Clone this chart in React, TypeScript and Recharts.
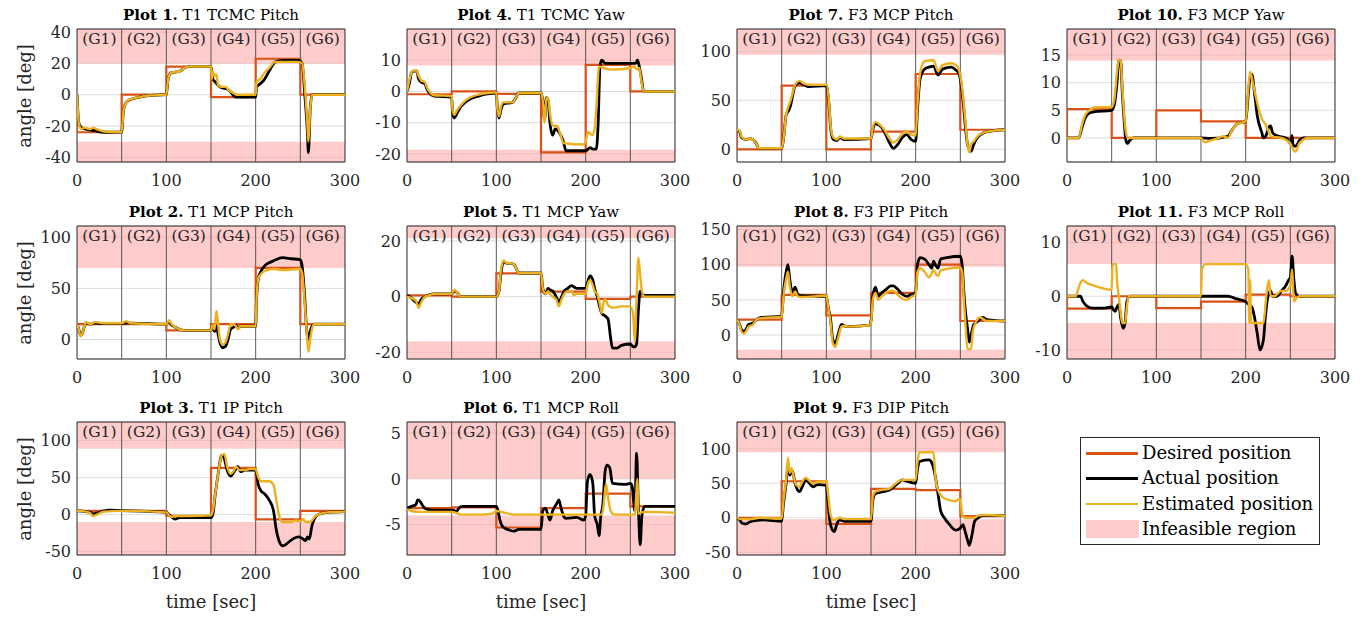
import React from 'react';
import { LineChart, Line, XAxis, YAxis, CartesianGrid, ReferenceArea, ReferenceLine } from 'recharts';

type Pt = [number, number];

const FONT = '"DejaVu Serif", serif';
const RED = '#d95319';
const BLACK = '#000000';
const YELLOW = '#edb120';
const PINK = '#ff9999';

const groups = ['(G1)', '(G2)', '(G3)', '(G4)', '(G5)', '(G6)'];
const groupEdges = [0, 50, 100, 150, 200, 250, 300];
const timeTicks = [0, 100, 200, 300];

// desired: start value, then the goal of G1..G6
const p1Desired = [0, -24, 0, 18, -1.5, 23, 0];
const p1Actual: Pt[] = [[0, 0], [2, -18], [5, -21], [10, -22], [20, -23], [30, -24], [50, -24], [52, -10], [55, -5], [60, -3], [70, -1.5], [80, -0.5], [100, 0], [102, 10], [105, 14], [115, 15], [120, 17], [125, 18], [150, 18], [152, 10], [155, 8], [160, 5], [170, 3], [178, -1.5], [200, -1.5], [201, 5], [205, 7], [210, 10], [215, 15], [222, 21], [230, 22], [248, 22], [252, 20], [255, 0], [258, -25], [259, -37], [261, -10], [263, 0], [300, 0]];
const p1Estimated: Pt[] = [[0, 0], [2, -18], [5, -22], [8, -21], [15, -22], [18, -21], [22, -22], [30, -23.5], [50, -24], [52, -10], [55, -5], [60, -3], [70, -1.5], [80, -0.5], [100, 0], [102, 10], [105, 14], [115, 15], [120, 17], [125, 18], [150, 18], [151, 10], [152, 15], [154, 12], [156, 13], [158, 6], [162, 5], [166, 5], [170, 3], [175, 1], [180, 0], [200, 0], [201, 8], [205, 10], [210, 14], [215, 17], [222, 21], [248, 21], [252, 20], [255, 5], [258, -20], [259, -30], [261, -10], [263, 0], [300, 0]];

const p2Desired = [15, 15, 15, 9, 15, 70, 15];
const p2Actual: Pt[] = [[0, 15], [2, 10], [4, 4], [6, 6], [8, 12], [10, 16], [15, 15], [20, 16], [30, 15.5], [50, 15.5], [55, 16], [60, 16], [100, 15], [103, 17], [105, 15], [110, 12], [120, 9], [150, 9], [152, 12], [154, 8], [156, 13], [158, 5], [160, -3], [163, -8], [166, -7], [169, 0], [172, 10], [175, 12], [178, 14], [180, 11], [183, 13], [200, 13], [201, 40], [203, 60], [205, 65], [210, 72], [215, 75], [220, 77], [230, 80], [240, 79], [250, 78], [252, 72], [255, 40], [257, 10], [259, 0], [261, 8], [263, 13], [265, 15], [300, 15]];
const p2Estimated: Pt[] = [[0, 15], [2, 10], [4, 3], [6, 6], [8, 12], [10, 17], [15, 15], [20, 17], [30, 16], [50, 16], [55, 18], [60, 16], [100, 15], [103, 19], [105, 16], [110, 12], [120, 9], [150, 9], [152, 14], [154, 10], [156, 28], [158, 15], [160, 0], [163, -5], [166, -3], [169, 5], [172, 15], [175, 15], [178, 13], [180, 10], [183, 13], [200, 13], [201, 40], [203, 60], [205, 63], [210, 67], [220, 69], [230, 68], [250, 69], [252, 65], [255, 35], [257, 10], [259, -12], [261, 0], [263, 10], [265, 15], [300, 15]];

const p3Desired = [5, 5, 5, -1.5, 63, -6.5, 5];
const p3Actual: Pt[] = [[0, 5], [10, 4], [15, 3], [18, 1], [22, 2], [30, 5], [35, 6], [50, 5.5], [100, 3], [103, 0], [107, -4], [110, -6], [115, -4], [150, -4], [152, 0], [155, 30], [158, 55], [162, 80], [165, 75], [168, 60], [172, 52], [177, 60], [180, 65], [183, 58], [188, 60], [200, 60], [203, 40], [206, 32], [210, 28], [215, 20], [220, 5], [223, -20], [226, -35], [230, -42], [233, -41], [238, -36], [243, -32], [248, -30], [252, -32], [256, -35], [258, -30], [260, -33], [263, -15], [266, -5], [270, 0], [280, 3], [300, 4]];
const p3Estimated: Pt[] = [[0, 5], [10, 4], [15, 2], [18, -2], [22, 0], [30, 4], [50, 5], [100, 3], [105, -3], [110, -2], [125, -2], [150, -1], [152, 5], [155, 30], [158, 55], [162, 80], [165, 82], [168, 65], [172, 55], [175, 58], [178, 65], [182, 60], [188, 60], [195, 62], [200, 61], [203, 50], [206, 45], [215, 45], [220, 40], [223, 20], [226, 0], [230, -10], [240, -10], [245, -8], [250, -9], [253, -6], [256, -10], [260, -10], [263, -8], [266, -3], [270, 0], [280, 3], [300, 4]];

const p4Desired = [-0.9, -0.9, 0, -0.8, -19.5, 8.5, 0];
const p4Actual: Pt[] = [[0, 0], [3, 3], [5, 6], [8, 6.5], [11, 6.5], [13, 4], [16, 3], [20, 2.5], [22, 1], [25, -0.5], [30, -1.5], [50, -1.8], [51, -7], [53, -8.5], [56, -7], [60, -5], [65, -3.5], [70, -2.5], [80, -1.5], [90, -0.8], [100, -0.5], [101, -5], [103, -8.5], [105, -6], [108, -4], [118, -3.5], [122, -2], [125, -0.5], [150, -0.5], [152, -3], [154, -9], [156, -2], [158, -3], [160, -10], [163, -14], [166, -12], [170, -13], [175, -16], [178, -19], [200, -19], [205, -18], [208, -18.5], [212, -18.5], [214, -10], [216, 8], [218, 10], [222, 9], [256, 9], [258, 10], [260, 8], [262, 5], [265, 0], [300, 0]];
const p4Estimated: Pt[] = [[0, 0], [3, 4], [5, 6], [8, 6.8], [11, 6.5], [13, 5], [16, 3.5], [20, 3], [22, 1.5], [25, 0], [30, -1.2], [50, -1.5], [51, -6], [53, -7.5], [56, -6], [60, -4.5], [65, -3], [70, -2], [80, -1], [90, -0.5], [100, -0.3], [101, -5], [103, -8], [105, -5], [108, -3.5], [118, -3.5], [122, -2], [125, -0.5], [150, -0.5], [152, -3], [154, -10], [156, -2], [158, -2], [160, -7], [163, -11], [168, -11], [172, -14], [175, -16.5], [198, -17], [200, -16], [203, -13], [207, -14], [210, -12], [212, -5], [215, 8], [220, 7.5], [230, 7], [250, 7.5], [254, 8], [258, 7], [260, 7.5], [262, 4], [265, 0], [300, 0]];

const p5Desired = [0.5, 0.5, 0, 8.4, 1.8, -0.8, 0];
const p5Actual: Pt[] = [[0, 0.5], [5, -0.5], [10, -2], [13, -2.5], [16, -1], [20, 0], [25, 0.7], [30, 1], [50, 1], [53, 2], [56, 1.5], [60, 0], [100, 0], [103, 2], [105, 8], [108, 12.5], [112, 12], [116, 12], [120, 11.5], [125, 8.5], [150, 8.5], [152, 3], [155, 1], [158, 3], [160, 2.5], [163, 2], [167, 0], [170, -2], [173, 0], [176, 2], [180, 3], [184, 4], [187, 3.5], [190, 3], [200, 3], [202, 5], [205, 7.5], [208, 6], [210, 3], [213, 0], [216, -4], [218, -6], [222, -7], [225, -8], [228, -15], [230, -18.5], [235, -18.5], [240, -17.5], [250, -17], [253, -18], [255, -18], [257, -17], [259, -5], [261, 2], [263, 1], [266, 0.5], [300, 0.5]];
const p5Estimated: Pt[] = [[0, 0], [5, -0.5], [10, -1.5], [13, -4], [16, -2], [20, 0], [25, 0.5], [30, 1], [50, 1], [53, 2.5], [56, 1.5], [60, 0], [100, 0], [103, 2], [105, 9], [108, 13], [112, 12], [116, 12], [120, 11.5], [125, 8.5], [150, 8.5], [152, 3], [155, 1], [158, 2], [160, 1], [163, 0], [167, -1], [170, -3.5], [173, -1], [176, 1], [180, 2], [184, 2], [187, 0.5], [190, 1], [200, 1], [202, 4], [205, 6], [208, 4], [210, 2], [213, 1], [216, -3], [218, -6], [220, -2], [222, -1], [225, -3], [230, -4], [240, -3.5], [250, -3.5], [253, -6], [255, -16], [257, 0], [259, 14], [261, 8], [263, 2], [266, 0], [300, 0]];

const p6Desired = [-3.2, -3.2, -3.1, -5.3, -3.2, -1.6, -3];
const p6Actual: Pt[] = [[0, -3.2], [5, -3], [10, -2.8], [12, -2.3], [15, -2.5], [18, -3], [22, -3.3], [30, -3.4], [52, -3.4], [55, -3.6], [58, -3.2], [62, -3], [100, -3], [102, -3.5], [104, -4.5], [107, -5.2], [115, -5.6], [120, -5.7], [125, -5.5], [150, -5.5], [152, -3.5], [155, -3.2], [158, -4], [160, -4.5], [163, -3.5], [167, -2.8], [170, -2.3], [172, -3], [175, -4], [178, -4.3], [190, -4.2], [198, -4.5], [200, -4], [202, -0.3], [205, 0.5], [208, -0.5], [210, -4], [213, -5], [215, -6.2], [217, -4], [219, -3], [222, 1], [224, 1.5], [227, 1.2], [230, -0.5], [245, -0.6], [250, -0.5], [252, -0.8], [255, -3.5], [257, 2.8], [259, -3], [261, -7.2], [263, -4], [266, -3], [300, -3]];
const p6Estimated: Pt[] = [[0, -3.3], [5, -3.5], [15, -3.6], [50, -3.6], [55, -3.7], [60, -3.9], [80, -3.9], [95, -3.8], [100, -3.5], [110, -3.7], [120, -3.9], [218, -3.9], [220, -3], [222, -1], [223, -0.6], [225, -2], [228, -3.5], [232, -3.9], [255, -3.9], [258, 0], [259, -3.8], [265, -3.6], [300, -3.7]];

const p7Desired = [18, 0, 65, 0, 18, 77, 20];
const p7Actual: Pt[] = [[0, 20], [3, 18], [5, 12], [10, 10], [15, 11], [20, 8], [25, 1], [50, 1], [52, 10], [55, 35], [58, 40], [60, 45], [65, 65], [70, 68], [75, 66], [80, 64], [100, 65], [103, 45], [105, 20], [108, 10], [112, 9], [115, 12], [120, 10], [150, 11], [152, 20], [155, 26], [160, 24], [165, 18], [170, 8], [175, 1], [180, 5], [185, 12], [190, 15], [195, 10], [200, 8], [202, 40], [205, 72], [210, 82], [215, 84], [220, 85], [225, 76], [230, 82], [240, 84], [245, 81], [248, 78], [250, 72], [253, 50], [256, 20], [258, 5], [260, 0], [262, -2], [265, 5], [270, 13], [280, 18], [300, 20]];
const p7Estimated: Pt[] = [[0, 20], [3, 19], [5, 13], [10, 10], [15, 11], [20, 8], [25, 1], [50, 1], [52, 10], [55, 35], [58, 45], [60, 50], [65, 66], [70, 70], [75, 67], [80, 66], [100, 66], [103, 48], [105, 22], [108, 12], [112, 10], [115, 13], [120, 11], [150, 11], [152, 22], [155, 28], [160, 25], [165, 20], [170, 12], [175, 7], [180, 10], [185, 16], [190, 18], [195, 15], [200, 14], [202, 45], [205, 78], [210, 90], [220, 91], [225, 80], [230, 86], [240, 88], [245, 86], [248, 82], [250, 75], [253, 55], [256, 25], [258, 5], [260, -3], [262, 5], [265, 8], [270, 14], [280, 18], [300, 20]];

const p8Desired = [22, 22, 57, 28, 60, 100, 20];
const p8Actual: Pt[] = [[0, 22], [3, 15], [5, 8], [8, 5], [10, 8], [13, 15], [18, 17], [22, 22], [27, 25], [50, 27], [52, 60], [55, 90], [57, 100], [59, 80], [62, 60], [65, 68], [68, 58], [72, 56], [100, 55], [102, 40], [105, 20], [107, -5], [110, -12], [113, 0], [117, 15], [120, 13], [125, 12], [148, 14], [150, 20], [152, 55], [155, 68], [158, 55], [162, 60], [167, 65], [172, 70], [175, 70], [180, 65], [185, 58], [190, 55], [195, 58], [200, 60], [202, 100], [205, 110], [210, 108], [215, 100], [218, 95], [220, 105], [222, 100], [225, 95], [228, 108], [235, 110], [250, 112], [252, 100], [254, 60], [256, 30], [258, 10], [260, -10], [262, 0], [265, 15], [270, 20], [275, 25], [280, 22], [300, 20]];
const p8Estimated: Pt[] = [[0, 22], [3, 14], [5, 5], [8, 2], [10, 5], [13, 12], [18, 15], [22, 22], [27, 24], [50, 26], [52, 55], [55, 80], [57, 90], [59, 70], [62, 55], [65, 62], [68, 55], [72, 54], [100, 56], [102, 40], [105, 15], [107, -10], [110, -17], [113, -5], [117, 12], [120, 13], [125, 12], [148, 14], [150, 18], [152, 50], [155, 60], [158, 50], [162, 55], [167, 60], [172, 63], [175, 63], [180, 57], [185, 52], [190, 50], [195, 54], [200, 58], [202, 90], [205, 95], [210, 90], [215, 82], [218, 88], [220, 93], [222, 88], [225, 84], [228, 92], [235, 94], [250, 96], [252, 90], [254, 50], [256, 10], [258, -20], [262, -20], [264, 5], [268, 20], [272, 25], [280, 20], [300, 20]];

const p9Desired = [0, 0, 53, -9, 42, 40, 2.4];
const p9Actual: Pt[] = [[0, 0], [3, -3], [6, -8], [10, -9], [14, -6], [20, -4], [30, -3], [40, -4], [50, -5], [52, 20], [55, 50], [57, 75], [59, 62], [62, 68], [65, 50], [68, 40], [70, 38], [73, 45], [77, 55], [80, 52], [85, 45], [90, 48], [100, 47], [102, 20], [104, -5], [107, -18], [109, -20], [112, -8], [115, -3], [120, -5], [150, -5], [152, 25], [155, 35], [160, 37], [170, 40], [180, 50], [185, 55], [190, 53], [200, 50], [202, 70], [205, 82], [215, 84], [218, 80], [222, 60], [225, 35], [228, 10], [232, 0], [238, -10], [245, -18], [250, -15], [253, -10], [255, -18], [258, -32], [260, -40], [263, -25], [266, -5], [270, 0], [275, 3], [300, 3]];
const p9Estimated: Pt[] = [[0, 2], [3, -2], [15, -2], [25, 0], [40, -1], [50, -1], [52, 25], [55, 55], [57, 87], [59, 65], [61, 72], [63, 62], [66, 48], [70, 45], [73, 52], [77, 58], [80, 55], [85, 50], [90, 52], [100, 53], [102, 35], [104, 10], [107, -3], [112, -2], [115, 0], [120, -2], [150, -2], [152, 30], [155, 38], [160, 40], [170, 42], [180, 52], [185, 55], [200, 55], [202, 80], [204, 95], [220, 95], [222, 60], [225, 40], [230, 30], [240, 25], [245, 24], [248, 27], [250, 27], [252, 5], [255, 0], [265, 0], [270, 3], [275, 4], [300, 3]];

const p10Desired = [0, 5.2, 0, 5, 3, 0, 0];
const p10Actual: Pt[] = [[0, 0], [13, 0], [17, 2], [20, 3.5], [25, 4.5], [30, 4.7], [50, 5], [53, 6], [56, 10], [58, 14], [60, 14], [62, 8], [64, 3], [66, -0.5], [68, -1], [70, -0.5], [75, 0], [150, 0], [160, -0.1], [180, 0.3], [185, 1.5], [190, 2.5], [200, 3], [203, 8], [205, 11], [207, 11.5], [210, 8], [213, 4], [218, 1], [220, 0], [223, 0.5], [226, 2], [228, 2.2], [230, 1], [235, 0.4], [245, 0], [248, -0.5], [250, -1], [252, 0.4], [253, -1.3], [256, -1.5], [260, -0.5], [265, 0], [300, 0]];
const p10Estimated: Pt[] = [[0, 0], [13, 0], [17, 2.5], [20, 4], [25, 5], [30, 5.5], [50, 5.6], [53, 7], [56, 12], [58, 14.2], [60, 14], [62, 9], [64, 4], [66, 1], [68, 0], [150, 0], [152, -0.5], [155, -0.8], [160, -0.5], [170, 0], [175, 0.3], [180, 0], [185, 1.5], [190, 2.5], [200, 3], [203, 9], [205, 12], [208, 10], [212, 7], [215, 5], [218, 3.5], [222, 2.5], [225, 1.5], [228, 0.3], [240, 0], [250, -1], [253, -2], [256, -2.5], [260, -1], [270, 0], [300, 0]];

const p11Desired = [0, -2.3, 0, -2.2, -1, 0.3, 0];
const p11Actual: Pt[] = [[0, 0], [15, 0], [18, -1], [22, -1.8], [28, -2.2], [40, -2.2], [50, -2], [52, -2.5], [54, -2.8], [56, -2], [58, -1.5], [60, -4], [63, -6], [65, -5], [67, -1], [70, 0], [180, 0], [190, -0.5], [200, -1], [203, -1.5], [207, -2], [210, -4], [213, -7], [216, -10], [220, -8], [222, -4], [225, 0], [228, 1], [230, 0], [235, 0], [240, 1], [245, 2], [248, 3], [250, 3.5], [252, 7.5], [254, 3], [256, 0.5], [260, 0], [300, 0]];
const p11Estimated: Pt[] = [[0, 0], [10, 0], [12, 1], [15, 2.5], [18, 3], [22, 2.5], [30, 2], [40, 1.5], [50, 1.2], [51, 6], [55, 6], [56, 3], [58, 0], [60, -3], [62, -5], [65, -5], [67, -2], [69, 0], [150, 0], [151, 5], [155, 6], [200, 6], [203, 5], [204, -5], [205, 3], [206, -5], [220, -5], [223, 0], [226, 3], [228, 0], [232, 0], [240, 1], [245, 1], [250, 2], [252, 5], [254, -1], [256, -0.5], [260, 0], [300, 0]];

const PLOT_W = 268;
const PLOT_H = 133;
const Y_W = 50;
const TOP_M = 10;
const RIGHT_M = 18;
const X_H = 32;

const colLeft = [77, 407, 737, 1067];
const rowTop = [29, 226, 422];

interface Cfg {
  n: number;
  name: string;
  col: number;
  row: number;
  domain: [number, number];
  ticks: number[];
  bands: [number, number][];
  desired: number[];
  actual: Pt[];
  estimated: Pt[];
}

const plots: Cfg[] = [
  { n: 1, name: 'T1 TCMC Pitch', col: 0, row: 0, domain: [-43, 42], ticks: [-40, -20, 0, 20, 40], bands: [[20, 42], [-43, -30]], desired: p1Desired, actual: p1Actual, estimated: p1Estimated },
  { n: 2, name: 'T1 MCP Pitch', col: 0, row: 1, domain: [-19, 111], ticks: [0, 50, 100], bands: [[70, 111]], desired: p2Desired, actual: p2Actual, estimated: p2Estimated },
  { n: 3, name: 'T1 IP Pitch', col: 0, row: 2, domain: [-54.5, 125], ticks: [-50, 0, 50, 100], bands: [[89, 125], [-54.5, -10]], desired: p3Desired, actual: p3Actual, estimated: p3Estimated },
  { n: 4, name: 'T1 TCMC Yaw', col: 1, row: 0, domain: [-22.6, 20], ticks: [-20, -10, 0, 10], bands: [[8.3, 20], [-22.6, -18.7]], desired: p4Desired, actual: p4Actual, estimated: p4Estimated },
  { n: 5, name: 'T1 MCP Yaw', col: 1, row: 1, domain: [-22.4, 25.4], ticks: [-20, 0, 20], bands: [[21, 25.4], [-22.4, -16]], desired: p5Desired, actual: p5Actual, estimated: p5Estimated },
  { n: 6, name: 'T1 MCP Roll', col: 1, row: 2, domain: [-8.3, 6.2], ticks: [-5, 0, 5], bands: [[0, 6.2], [-8.3, -4]], desired: p6Desired, actual: p6Actual, estimated: p6Estimated },
  { n: 7, name: 'F3 MCP Pitch', col: 2, row: 0, domain: [-13, 123], ticks: [0, 50, 100], bands: [[96.6, 123]], desired: p7Desired, actual: p7Actual, estimated: p7Estimated },
  { n: 8, name: 'F3 PIP Pitch', col: 2, row: 1, domain: [-34, 155], ticks: [0, 50, 100, 150], bands: [[97, 155], [-34, -21]], desired: p8Desired, actual: p8Actual, estimated: p8Estimated },
  { n: 9, name: 'F3 DIP Pitch', col: 2, row: 2, domain: [-54, 139], ticks: [-50, 0, 50, 100], bands: [[95, 139], [-54, -2]], desired: p9Desired, actual: p9Actual, estimated: p9Estimated },
  { n: 10, name: 'F3 MCP Yaw', col: 3, row: 0, domain: [-4.35, 19.7], ticks: [0, 5, 10, 15], bands: [[14, 19.7]], desired: p10Desired, actual: p10Actual, estimated: p10Estimated },
  { n: 11, name: 'F3 MCP Roll', col: 3, row: 1, domain: [-11.7, 13.1], ticks: [-10, 0, 10], bands: [[6, 13.1], [-11.7, -5]], desired: p11Desired, actual: p11Actual, estimated: p11Estimated },
];

const toRows = (pts: Pt[]) => pts.map(([t, v]) => ({ t, v }));

// step path: start value at t=0, then one level per group
const stepRows = (levels: number[]) => {
  const out = [{ t: 0, v: levels[0] }];
  for (let i = 0; i < 6; i++) {
    out.push({ t: groupEdges[i], v: levels[i + 1] });
    out.push({ t: groupEdges[i + 1], v: levels[i + 1] });
  }
  return out;
};

const tickStyle = { fill: '#262626', fontSize: 16, fontFamily: FONT };

function Subplot({ cfg }: { cfg: Cfg }) {
  const left = colLeft[cfg.col];
  const top = rowTop[cfg.row];
  const [lo, hi] = cfg.domain;
  return (
    <>
      <div style={{ position: 'absolute', left: left - Y_W, top: top - TOP_M }}>
        <LineChart
          width={Y_W + PLOT_W + RIGHT_M}
          height={TOP_M + PLOT_H + X_H}
          margin={{ top: TOP_M, right: RIGHT_M, left: 0, bottom: 0 }}
        >
          <CartesianGrid vertical={false} stroke="#dedede" />
          <XAxis
            type="number"
            dataKey="t"
            domain={[0, 300]}
            ticks={timeTicks}
            allowDataOverflow
            axisLine={false}
            tickLine={false}
            tickSize={0}
            tickMargin={13}
            height={X_H}
            tick={tickStyle}
          />
          <YAxis
            type="number"
            domain={[lo, hi]}
            ticks={cfg.ticks}
            allowDataOverflow
            axisLine={false}
            tickLine={false}
            tickSize={0}
            tickMargin={6}
            width={Y_W}
            tick={tickStyle}
          />
          {cfg.bands.map(([a, b], i) => (
            <ReferenceArea key={`band-${i}`} y1={a} y2={b} fill={PINK} fillOpacity={0.5} stroke="none" />
          ))}
          {groupEdges.slice(1, 6).map((x) => (
            <ReferenceLine key={`sep-${x}`} x={x} stroke="#404040" strokeOpacity={0.85} strokeWidth={1} />
          ))}
          {groups.map((g, i) => (
            <ReferenceArea
              key={g}
              x1={groupEdges[i]}
              x2={groupEdges[i + 1]}
              fillOpacity={0}
              stroke="none"
              label={{ value: g, position: 'insideTop', offset: 4, fontSize: 15.5, fill: '#262626', fontFamily: FONT }}
            />
          ))}
          <Line data={stepRows(cfg.desired)} dataKey="v" type="linear" stroke={RED} strokeWidth={2.2} dot={false} activeDot={false} isAnimationActive={false} />
          <Line data={toRows(cfg.actual)} dataKey="v" type="monotone" stroke={BLACK} strokeWidth={2.8} dot={false} activeDot={false} isAnimationActive={false} />
          <Line data={toRows(cfg.estimated)} dataKey="v" type="monotone" stroke={YELLOW} strokeWidth={2.4} dot={false} activeDot={false} isAnimationActive={false} />
          <ReferenceArea x1={0} x2={300} y1={lo} y2={hi} fill="none" stroke="#262626" strokeWidth={1} />
        </LineChart>
      </div>
      <div
        style={{
          position: 'absolute',
          left: left + PLOT_W / 2,
          top: top - 14,
          transform: 'translate(-50%, -50%)',
          whiteSpace: 'nowrap',
          fontFamily: FONT,
          fontSize: 15,
          color: '#000',
        }}
      >
        <b>Plot {cfg.n}.</b> {cfg.name}
      </div>
      {cfg.col === 0 && (
        <div
          style={{
            position: 'absolute',
            left: 24,
            top: top + PLOT_H / 2,
            transform: 'translate(-50%, -50%) rotate(-90deg)',
            whiteSpace: 'nowrap',
            fontFamily: FONT,
            fontSize: 18,
            color: '#262626',
          }}
        >
          angle [deg]
        </div>
      )}
      {cfg.row === 2 && (
        <div
          style={{
            position: 'absolute',
            left: left + PLOT_W / 2,
            top: 601,
            transform: 'translate(-50%, -50%)',
            whiteSpace: 'nowrap',
            fontFamily: FONT,
            fontSize: 18,
            color: '#262626',
          }}
        >
          time [sec]
        </div>
      )}
    </>
  );
}

const legendItems = [
  { label: 'Desired position', color: RED, kind: 'line' },
  { label: 'Actual position', color: BLACK, kind: 'line' },
  { label: 'Estimated position', color: YELLOW, kind: 'line' },
  { label: 'Infeasible region', color: '#ffcccc', kind: 'patch' },
];

function LegendBox() {
  return (
    <div
      style={{
        position: 'absolute',
        left: 1080,
        top: 437,
        width: 238,
        height: 106,
        border: '1px solid #262626',
        background: '#fff',
        fontFamily: FONT,
        fontSize: 18,
        color: '#000',
      }}
    >
      {legendItems.map((it, i) => {
        const cy = [15, 40, 65.5, 91][i];
        return (
          <div key={it.label} style={{ position: 'absolute', left: 0, top: cy - 12, height: 24, width: 238 }}>
            {it.kind === 'line' ? (
              <div style={{ position: 'absolute', left: 5, top: 11, width: 52, height: 2.5, background: it.color }} />
            ) : (
              <div style={{ position: 'absolute', left: 5, top: 3, width: 53, height: 18, background: it.color }} />
            )}
            <div style={{ position: 'absolute', left: 61, top: 0, lineHeight: '24px', whiteSpace: 'nowrap' }}>{it.label}</div>
          </div>
        );
      })}
    </div>
  );
}

export default function App() {
  return (
    <div style={{ position: 'absolute', left: 0, top: 0, width: 1366, height: 618, background: '#fff', overflow: 'hidden' }}>
      {plots.map((p) => (
        <Subplot key={p.n} cfg={p} />
      ))}
      <LegendBox />
    </div>
  );
}
